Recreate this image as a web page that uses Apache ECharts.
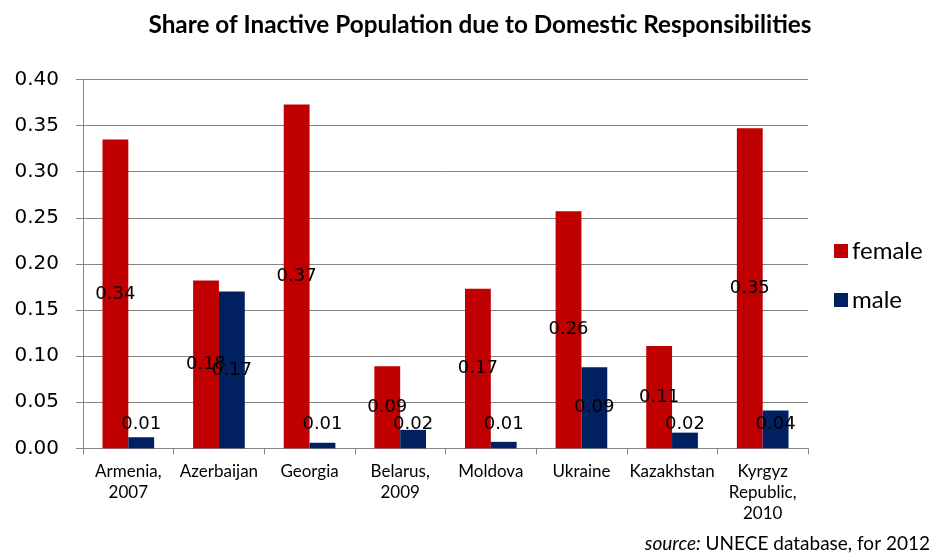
<!DOCTYPE html>
<html>
<head>
<meta charset="utf-8">
<script src="https://cdn.jsdelivr.net/npm/echarts@6/dist/echarts.min.js"></script>
<style>
  html, body { margin: 0; padding: 0; background: #fff; }
  #chart { width: 939px; height: 554px; }
</style>
</head>
<body>
<div id="chart"></div>
<script>
// Country / survey-year categories (line breaks as shown under the axis)
const categories = [
  'Armenia,\n2007', 'Azerbaijan', 'Georgia', 'Belarus,\n2009',
  'Moldova', 'Ukraine', 'Kazakhstan', 'Kyrgyz\nRepublic,\n2010'
];
// Share of inactive population citing domestic responsibilities
const female = [0.335, 0.182, 0.373, 0.089, 0.173, 0.257, 0.111, 0.347];
const male   = [0.012, 0.170, 0.006, 0.020, 0.007, 0.088, 0.017, 0.041];
const yTicks = [0, 0.05, 0.10, 0.15, 0.20, 0.25, 0.30, 0.35, 0.40];

const chart = echarts.init(document.getElementById('chart'));

// Short bars keep their label lifted off the axis instead of centred.
function withLabels(values) {
  return values.map(v => {
    if (v < 0.052) {
      return { value: v, label: { position: 'insideBottom', distance: 15 } };
    }
    return { value: v };
  });
}

const labelStyle = {
  show: true,
  position: 'inside',
  color: '#000',
  fontFamily: 'DejaVu Sans',
  fontSize: 18,
  lineHeight: 18,
  formatter: p => p.value.toFixed(2)
};

chart.setOption({
  animation: false,
  backgroundColor: '#fff',
  title: [{
    text: 'Share of Inactive Population due to Domestic Responsibilities',
    left: 475, top: 8, textAlign: 'center',
    textStyle: { fontFamily: 'Lato', fontWeight: 'bold', fontSize: 24.3, color: '#000' }
  }, {
    text: '{i|source:} UNECE database, for 2012',
    right: 4, top: 529,
    textStyle: {
      fontFamily: 'Lato', fontWeight: 'normal', fontSize: 19, color: '#000',
      rich: { i: { fontFamily: 'Lato', fontWeight: 'normal', fontSize: 19, fontStyle: 'italic', color: '#000' } }
    }
  }],
  legend: {
    orient: 'vertical',
    left: 829, top: 234,
    itemWidth: 14, itemHeight: 14, itemGap: 25,
    icon: 'rect',
    textStyle: { fontFamily: 'Lato', fontSize: 24, lineHeight: 23, color: '#000', padding: [0, 0, 0, -1] },
    data: ['female', 'male']
  },
  grid: { left: 83, right: 131, top: 79.5, bottom: 105.7, containLabel: false },
  xAxis: {
    type: 'category',
    data: categories,
    boundaryGap: true,
    axisLine: { show: true, lineStyle: { color: '#868686', width: 1 } },
    axisTick: { show: true, length: 6, lineStyle: { color: '#868686' } },
    axisLabel: {
      interval: 0, margin: 13,
      fontFamily: 'Lato', fontSize: 17, lineHeight: 21, color: '#000', align: 'center'
    }
  },
  yAxis: {
    type: 'value',
    min: yTicks[0], max: yTicks[yTicks.length - 1], interval: 0.05,
    axisLine: { show: true, lineStyle: { color: '#868686', width: 1 } },
    axisTick: { show: true, length: 7, lineStyle: { color: '#868686' } },
    splitLine: { show: true, lineStyle: { color: '#868686', width: 1 } },
    axisLabel: {
      margin: 24,
      fontFamily: 'DejaVu Sans', fontSize: 20, color: '#000',
      formatter: v => v.toFixed(2)
    }
  },
  series: [{
    name: 'female',
    type: 'bar',
    data: withLabels(female),
    barGap: '0%',
    barCategoryGap: '43%',
    itemStyle: { color: '#C00000' },
    label: labelStyle,
    z: 2
  }, {
    name: 'male',
    type: 'bar',
    data: withLabels(male),
    barGap: '0%',
    barCategoryGap: '43%',
    itemStyle: { color: '#002060' },
    label: labelStyle,
    z: 2
  }]
});
</script>
</body>
</html>
